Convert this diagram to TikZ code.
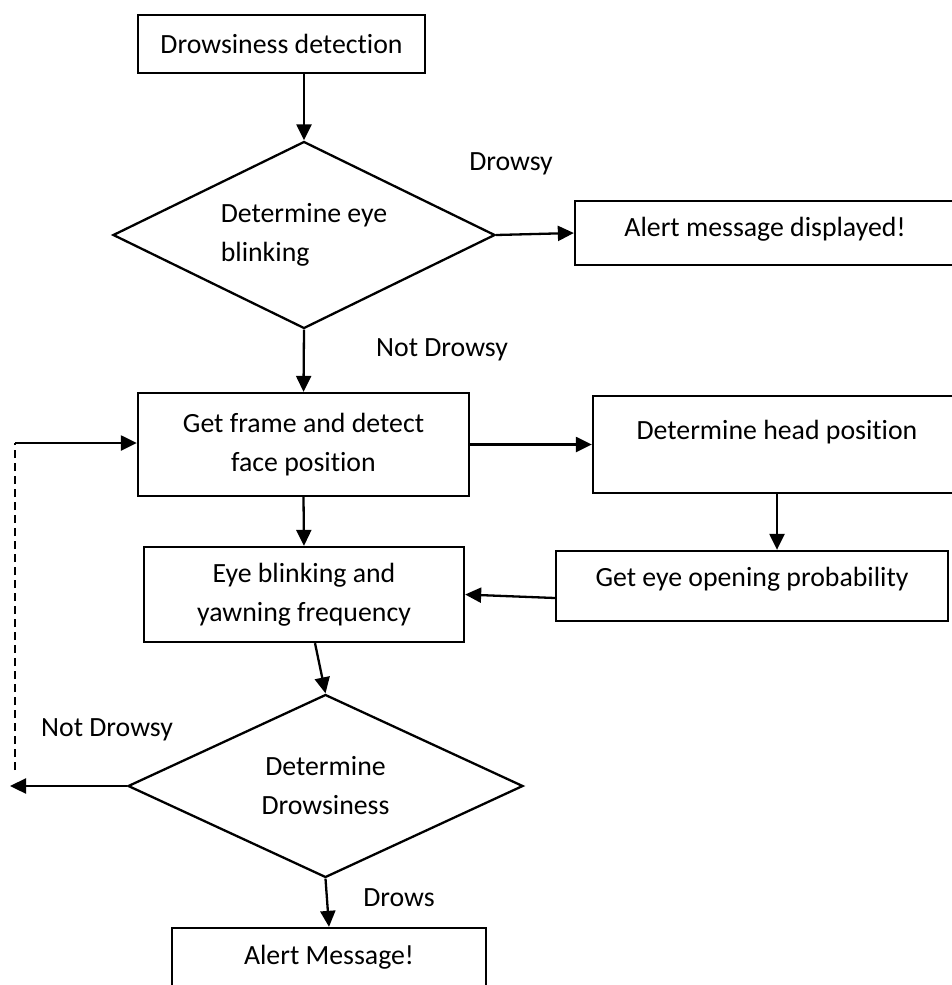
\documentclass[tikz,border=0pt]{standalone}
\usepackage{fontspec}
\setmainfont{Carlito}[Ligatures=NoCommon]
\usepackage{tikz}
\usetikzlibrary{positioning,shapes.geometric,arrows.meta}

\tikzset{
  procbox/.style={draw, line width=2.3pt, inner sep=0pt, align=center},
  decision/.style={draw, diamond, aspect=2, line width=2.3pt, inner sep=0pt},
  flow/.style={line width=2.3pt, -{Triangle[length=16pt,width=15pt]}},
  branch/.style={inner sep=0pt},
}

\begin{document}
\begin{tikzpicture}[x=1pt, y=-1pt, every node/.style={font=\fontsize{27.8}{39}\selectfont}]
  \useasboundingbox (0,0) rectangle (952,985);
  \clip (0,0) rectangle (952,985);

  % main column
  \node[procbox, minimum width=287, minimum height=58] (detect) at (281.5,44) {Drowsiness detection};
  \node[decision, minimum width=382, minimum height=187, align=left] (blink) at (304,235) {Determine eye\\blinking};
  \node[procbox, minimum width=331, minimum height=103] (frame) at (303.5,444.5) {Get frame and detect\\face position};
  \node[procbox, minimum width=320, minimum height=95] (freq) at (304,594.5) {Eye blinking and\\yawning frequency};
  \node[decision, minimum width=395, minimum height=183, align=center] (drowsy) at (325.5,786) {Determine\\Drowsiness};
  \node[procbox, minimum width=314, minimum height=59] (stop) at (329,957.5) {Alert Message!};

  % right column
  \node[procbox, minimum width=380, minimum height=64, text depth=13pt] (alertmsg) at (765,233) {Alert message displayed!};
  \node[procbox, minimum width=368, minimum height=97, text depth=29pt] (head) at (777,444.5) {Determine head position};
  \node[procbox, minimum width=392, minimum height=70, text depth=19pt] (eyeprob) at (752,586) {Get eye opening probability};

  % loop back
  \coordinate (exit) at (10,786);
  \coordinate (loopbot) at (15,770);
  \coordinate (looptop) at (15,443);

  \foreach \nm/\lx/\ly/\txt in {yes1/511/164/Drowsy, no1/442/350/{Not Drowsy},
                                no2/107/730/{Not Drowsy}, yes2/399/898/Drows}
    \node[branch] (\nm) at (\lx,\ly) {\txt};

  \draw[flow] (blink.north |- detect.south) -- (blink.north);
  \draw[flow] (blink.east) -- (alertmsg.west);
  \draw[flow] (blink.south) -- (frame.north);
  \draw[flow] (frame.east) -- (head.west);
  \draw[flow] (head.south) -- (head.south |- eyeprob.north);
  \draw[flow] ([yshift=-12pt]eyeprob.west) -- (freq.east);
  \draw[flow] (frame.south) -- (freq.north);
  \draw[flow] ([xshift=11pt]freq.south) -- (drowsy.north);
  \draw[flow] (drowsy.west) -- (exit);
  \draw[line width=1.6pt, dash pattern=on 8pt off 5pt] (loopbot) -- (looptop);
  \draw[flow] (looptop) -- (looptop -| frame.west);
  \draw[flow] (drowsy.south) -- (stop.north);
\end{tikzpicture}
\end{document}
